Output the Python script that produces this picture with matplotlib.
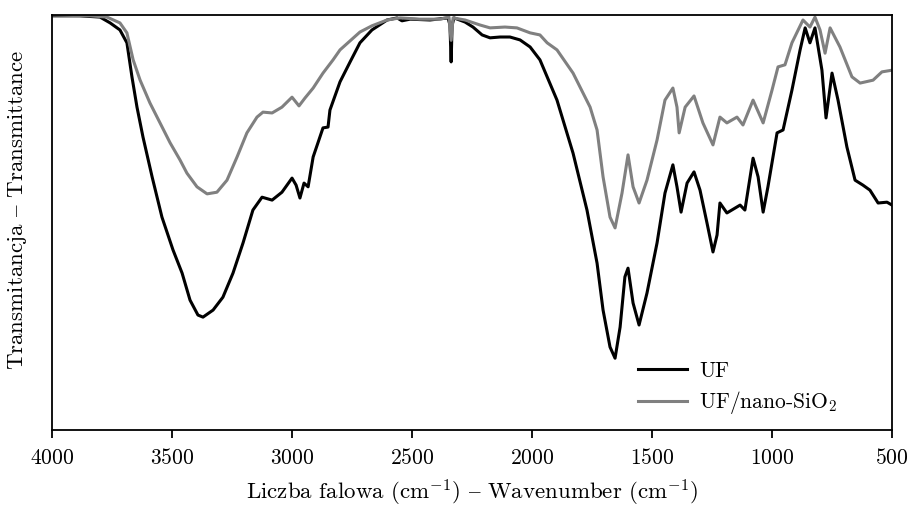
import matplotlib
matplotlib.use('Agg')
import matplotlib.pyplot as plt

plt.rcParams['font.family'] = ['cmr10', 'DejaVu Serif']
plt.rcParams['mathtext.fontset'] = 'cm'
plt.rcParams['axes.formatter.use_mathtext'] = True

# UF spectrum (wavenumber cm-1, transmittance a.u.)
uf_wn = [4000, 3883, 3800, 3758, 3717, 3688, 3667, 3646, 3621, 3583, 3542, 3496,
         3458, 3425, 3392, 3371, 3329, 3288, 3246, 3204, 3163, 3125, 3083, 3042,
         3000, 2983, 2967, 2950, 2933, 2912, 2892, 2871, 2850, 2842, 2800, 2758,
         2717, 2667, 2604, 2562, 2542, 2508, 2425, 2350, 2342, 2337, 2333, 2325,
         2279, 2246, 2208, 2175, 2133, 2092, 2050, 2008, 1967, 1896, 1829, 1771,
         1729, 1704, 1675, 1654, 1633, 1613, 1600, 1579, 1554, 1521, 1479, 1446,
         1413, 1396, 1379, 1354, 1325, 1300, 1271, 1246, 1229, 1217, 1188, 1133,
         1113, 1079, 1058, 1037, 1017, 979, 954, 917, 883, 862, 842, 821, 792,
         775, 750, 725, 688, 654, 621, 592, 558, 521, 500]
uf_t = [99.8, 99.8, 99.5, 98.1, 96.4, 93.3, 85.1, 77.8, 70.6, 61.0, 51.3, 43.4,
        37.8, 31.3, 27.7, 27.2, 28.9, 32.0, 37.8, 45.1, 53.0, 56.1, 55.4, 57.3,
        60.7, 59.0, 55.9, 59.5, 58.6, 65.8, 69.2, 72.8, 73.0, 77.1, 83.9, 88.7,
        93.3, 96.4, 98.8, 99.3, 98.6, 99.0, 98.8, 99.3, 97.6, 88.7, 97.6, 99.3,
        98.3, 97.1, 95.2, 94.5, 94.7, 94.7, 94.0, 92.3, 89.2, 79.5, 66.7, 53.0,
        40.2, 28.9, 20.0, 17.3, 24.8, 36.9, 39.0, 30.6, 25.3, 33.0, 45.1, 57.1,
        63.9, 58.6, 52.5, 59.5, 62.2, 57.8, 49.9, 42.9, 47.0, 54.7, 52.3, 54.2,
        53.0, 65.5, 61.0, 52.5, 58.6, 71.6, 72.3, 81.9, 91.6, 96.9, 93.3, 96.9, 86.7,
        75.2, 86.0, 79.5, 68.2, 60.2, 59.0, 57.8, 54.7, 54.9, 54.2]

# UF/nano-SiO2 spectrum
si_wn = [4000, 3842, 3771, 3717, 3688, 3662, 3633, 3592, 3550, 3508, 3467, 3438,
         3396, 3354, 3313, 3271, 3229, 3188, 3146, 3121, 3083, 3042, 3000, 2971,
         2946, 2912, 2871, 2829, 2800, 2717, 2667, 2604, 2550, 2467, 2383, 2346,
         2337, 2329, 2279, 2217, 2175, 2113, 2063, 2008, 1967, 1937, 1896, 1829,
         1758, 1729, 1704, 1675, 1654, 1625, 1600, 1579, 1554, 1521, 1479, 1446,
         1413, 1396, 1387, 1362, 1325, 1288, 1246, 1217, 1188, 1146, 1121, 1079,
         1037, 1000, 975, 946, 917, 871, 842, 821, 800, 779, 758, 717, 667, 633,
         579, 542, 500]
si_t = [100.0, 99.8, 99.5, 98.1, 95.7, 89.2, 84.3, 78.8, 74.0, 69.2, 65.1, 61.9,
        58.6, 56.9, 57.3, 60.2, 65.8, 71.6, 75.4, 76.6, 76.4, 77.8, 80.2, 78.1,
        80.0, 82.4, 86.0, 89.2, 91.6, 95.9, 97.4, 98.8, 99.3, 99.0, 99.0, 99.5,
        93.9, 99.3, 98.8, 97.6, 96.9, 97.1, 96.9, 95.7, 95.2, 93.3, 91.6, 86.0,
        77.8, 72.3, 61.0, 51.3, 48.7, 57.1, 66.3, 58.6, 54.7, 60.2, 69.9, 79.5,
        82.4, 77.8, 71.6, 77.8, 80.5, 74.0, 68.7, 75.4, 74.0, 75.4, 73.5, 79.5,
        74.0, 81.9, 87.5, 88.0, 93.3, 98.8, 97.1, 99.5, 96.4, 90.8, 96.9, 92.3,
        85.1, 83.6, 84.3, 86.3, 86.7]

xticks = [4000, 3500, 3000, 2500, 2000, 1500, 1000, 500]

fig = plt.figure(figsize=(9.08, 5.09), dpi=100)
ax = fig.add_axes([0.0573, 0.1552, 0.9251, 0.8153])

ax.plot(uf_wn, uf_t, color='black', lw=2.2, label='UF')
ax.plot(si_wn, si_t, color='#808080', lw=2.2, label='UF/nano-SiO$_2$')

ax.set_xlim(4000, 500)
ax.set_ylim(0, 100)
ax.set_xticks(xticks)
ax.set_yticks([])
ax.tick_params(axis='x', direction='out', length=6, width=1.3, labelsize=15.5, pad=7)
for s in ax.spines.values():
    s.set_linewidth(1.3)

ax.set_xlabel('Liczba falowa (cm$^{-1}$) $–$ Wavenumber (cm$^{-1}$)', fontsize=16.5)
ax.xaxis.set_label_coords(0.5, -0.114)
ax.set_ylabel('Transmitancja $–$ Transmittance', fontsize=16.5)
ax.yaxis.set_label_coords(-0.027, 0.53)

ax.legend(loc='lower left', bbox_to_anchor=(0.674, -0.014), frameon=False,
          fontsize=15.5, handlelength=2.3, handletextpad=0.55, labelspacing=0.4)

fig.savefig('out.png', dpi=100)
